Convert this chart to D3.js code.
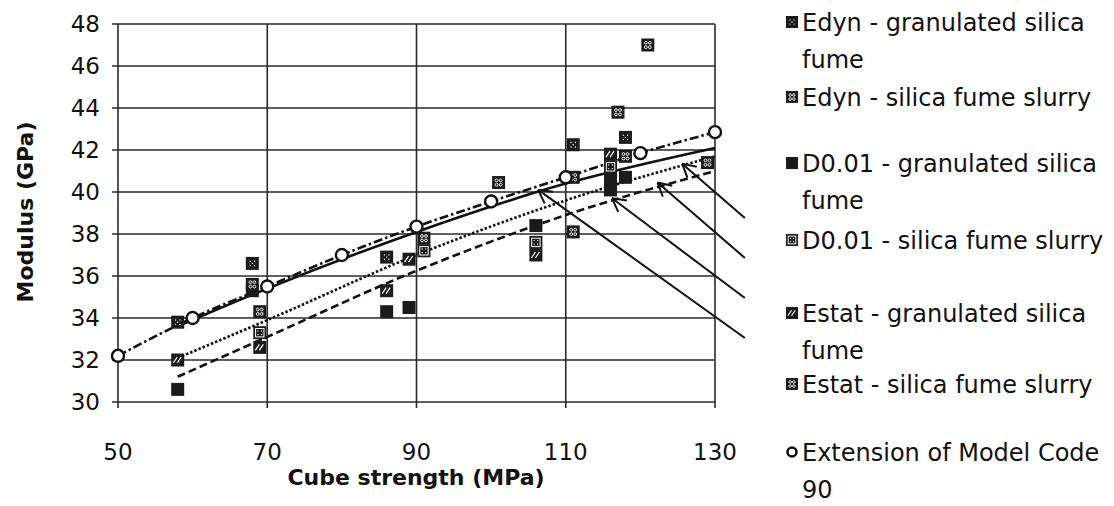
<!DOCTYPE html>
<html>
<head>
<meta charset="utf-8">
<script src="https://cdn.jsdelivr.net/npm/d3@7"></script>
<style>
  body { margin: 0; background: #fff; }
  text { font-family: "DejaVu Sans", sans-serif; fill: #111; }
</style>
</head>
<body>
<svg id="chart" width="1114" height="506"></svg>
<script>
// Axis ticks
const xTicks = [50, 70, 90, 110, 130];
const yTicks = [30, 32, 34, 36, 38, 40, 42, 44, 46, 48];

// Measured moduli [cube strength MPa, modulus GPa]
const edynGranulated  = [[58, 33.8], [68, 36.6], [86, 36.9], [111, 42.25], [118, 42.6]];
const edynSlurry      = [[91, 37.8], [101, 40.45], [111, 40.7], [117, 43.8], [121, 47.0], [129, 41.4]];
const d001Granulated  = [[58, 30.6], [68, 35.3], [86, 34.3], [89, 34.5], [106, 38.4], [116, 40.1], [116, 40.6], [118, 40.7]];
const d001Slurry      = [[69, 33.3], [91, 37.2], [106, 37.6], [116, 41.2]];
const estatGranulated = [[58, 32.0], [69, 32.6], [86, 35.3], [89, 36.8], [106, 37.0], [116, 41.8]];
const estatSlurry     = [[68, 35.6], [69, 34.3], [111, 38.1], [118, 41.7]];

// Model Code 90 extension
const modelCode90 = [[50, 32.2], [60, 34.0], [70, 35.5], [80, 37.0], [90, 38.35], [100, 39.55], [110, 40.7], [120, 41.85], [130, 42.85]];

// Trend lines through the measurements
const trendSolid  = [[58, 33.6], [70, 35.4], [90, 38.1], [110, 40.4], [130, 42.1]];
const trendDotted = [[58, 32.1], [70, 33.9], [90, 37.0], [110, 39.6], [130, 41.7]];
const trendDashed = [[58, 31.2], [70, 33.1], [90, 36.25], [110, 38.9], [130, 41.0]];

// Leader lines: tip on a trend line, tail to the right of the plot
const leaders = [
  { tip: [106.3, 40.1],  tail: [134, 33.05] },
  { tip: [116.2, 39.7],  tail: [134, 34.95] },
  { tip: [122.3, 40.45], tail: [134, 36.86] },
  { tip: [125.6, 41.35], tail: [134, 38.76] }
];

// Legend
const legendLabels = [
  ["Edyn - granulated silica", "fume"],
  ["Edyn - silica fume slurry"],
  ["D0.01 - granulated silica", "fume"],
  ["D0.01 - silica fume slurry"],
  ["Estat - granulated silica", "fume"],
  ["Estat - silica fume slurry"],
  ["Extension of Model Code", "90"]
];
const legendSymbols = ["dots", "checker", "solid", "box", "hatch", "checker", "circle"];
const legendRows = [22, 97, 163, 240, 313, 384, 452];

const svg = d3.select("#chart");
const x = d3.scaleLinear().domain([50, 130]).range([118, 715]);
const y = d3.scaleLinear().domain([30, 48]).range([402, 24]);

// Grid
const grid = svg.append("g").attr("stroke", "#2a2a2a").attr("stroke-width", 1.6);
grid.selectAll("line.h").data(yTicks).join("line")
  .attr("x1", x(50) - 6).attr("x2", x(130))
  .attr("y1", d => y(d)).attr("y2", d => y(d));
grid.selectAll("line.v").data(xTicks).join("line")
  .attr("x1", d => x(d)).attr("x2", d => x(d))
  .attr("y1", y(48)).attr("y2", y(30) + 6);

// Tick labels
svg.append("g").selectAll("text").data(yTicks).join("text")
  .attr("x", 100).attr("y", d => y(d)).attr("dy", "0.36em")
  .attr("text-anchor", "end").attr("font-size", 23)
  .text(d => d);
svg.append("g").selectAll("text").data(xTicks).join("text")
  .attr("x", d => x(d)).attr("y", 460)
  .attr("text-anchor", "middle").attr("font-size", 23)
  .text(d => d);

// Axis titles
svg.append("text")
  .attr("transform", "translate(33,212) rotate(-90)")
  .attr("text-anchor", "middle").attr("font-size", 22).attr("font-weight", "bold")
  .text("Modulus (GPa)");
svg.append("text")
  .attr("x", 416).attr("y", 485)
  .attr("text-anchor", "middle").attr("font-size", 22).attr("font-weight", "bold")
  .text("Cube strength (MPa)");

// Lines
const line = d3.line().x(d => x(d[0])).y(d => y(d[1])).curve(d3.curveMonotoneX);
const lines = svg.append("g").attr("fill", "none").attr("stroke", "#111");
lines.append("path").datum(trendSolid).attr("d", line).attr("stroke-width", 2.6);
lines.append("path").datum(trendDotted).attr("d", line).attr("stroke-width", 2.6).attr("stroke-dasharray", "2.5,2");
lines.append("path").datum(trendDashed).attr("d", line).attr("stroke-width", 2.6).attr("stroke-dasharray", "8,4");
lines.append("path").datum(modelCode90).attr("d", line).attr("stroke-width", 2.6).attr("stroke-dasharray", "9,3,2.5,3");

// Leader lines with open arrowheads
const lead = svg.append("g").attr("stroke", "#111").attr("stroke-width", 2).attr("fill", "none");
leaders.forEach(l => {
  const x1 = x(l.tip[0]), y1 = y(l.tip[1]), x2 = x(l.tail[0]), y2 = y(l.tail[1]);
  lead.append("line").attr("x1", x1).attr("y1", y1).attr("x2", x2).attr("y2", y2);
  const a = Math.atan2(y2 - y1, x2 - x1);
  [-0.5, 0.5].forEach(s => {
    lead.append("line").attr("x1", x1).attr("y1", y1)
      .attr("x2", x1 + 15 * Math.cos(a + s)).attr("y2", y1 + 15 * Math.sin(a + s));
  });
});

// Marker glyphs
function drawSquare(g, type, s) {
  const h = s / 2;
  g.append("rect").attr("x", -h).attr("y", -h).attr("width", s).attr("height", s).attr("fill", "#1b1b1b");
  const k = s / 13;
  if (type === "dots") {
    [[-2.2, -2.2], [2.2, -2.2], [0, 0], [-2.2, 2.2], [2.2, 2.2]].forEach(p =>
      g.append("circle").attr("cx", p[0] * k).attr("cy", p[1] * k).attr("r", 0.7 * k).attr("fill", "#fff"));
  } else if (type === "checker") {
    [[-2, -2.2], [2, -2.2], [-2, 2.2], [2, 2.2]].forEach(p =>
      g.append("circle").attr("cx", p[0] * k).attr("cy", p[1] * k).attr("r", 1.4 * k)
        .attr("fill", "none").attr("stroke", "#fff").attr("stroke-width", 0.9 * k));
  } else if (type === "hatch") {
    [[-3, 0], [1, 0]].forEach(p =>
      g.append("line").attr("x1", (p[0] - 1.5) * k).attr("y1", 3 * k)
        .attr("x2", (p[0] + 2.5) * k).attr("y2", -3 * k)
        .attr("stroke", "#fff").attr("stroke-width", 1.2 * k));
  } else if (type === "box") {
    g.append("rect").attr("x", -4.2 * k).attr("y", -4.2 * k).attr("width", 8.4 * k).attr("height", 8.4 * k)
      .attr("fill", "none").attr("stroke", "#fff").attr("stroke-width", 1 * k);
    [[-1.8, -1.8], [1.8, 1.8], [1.8, -1.8], [-1.8, 1.8]].forEach(p =>
      g.append("circle").attr("cx", p[0] * k).attr("cy", p[1] * k).attr("r", 0.65 * k).attr("fill", "#fff"));
  }
}

const seriesList = [
  [d001Granulated, "solid"],
  [d001Slurry, "box"],
  [estatGranulated, "hatch"],
  [estatSlurry, "checker"],
  [edynGranulated, "dots"],
  [edynSlurry, "checker"]
];
const markers = svg.append("g");
seriesList.forEach(([data, type]) => {
  data.forEach(d => {
    const g = markers.append("g").attr("transform", `translate(${x(d[0])},${y(d[1])})`);
    drawSquare(g, type, 13);
  });
});

// Model Code 90 circles
svg.append("g").selectAll("circle").data(modelCode90).join("circle")
  .attr("cx", d => x(d[0])).attr("cy", d => y(d[1])).attr("r", 6)
  .attr("fill", "#fff").attr("stroke", "#111").attr("stroke-width", 2.4);

// Legend
const legend = svg.append("g");
legendLabels.forEach((lines, i) => {
  const cy = legendRows[i];
  const g = legend.append("g");
  if (legendSymbols[i] === "circle") {
    g.append("circle").attr("cx", 792).attr("cy", cy).attr("r", 4.5)
      .attr("fill", "#fff").attr("stroke", "#111").attr("stroke-width", 2.6);
  } else {
    const s = g.append("g").attr("transform", `translate(792,${cy})`);
    drawSquare(s, legendSymbols[i], 12);
  }
  lines.forEach((t, j) => {
    g.append("text").attr("x", 802).attr("y", cy + j * 37).attr("dy", "0.36em")
      .attr("font-size", 24).text(t);
  });
});
</script>
</body>
</html>
